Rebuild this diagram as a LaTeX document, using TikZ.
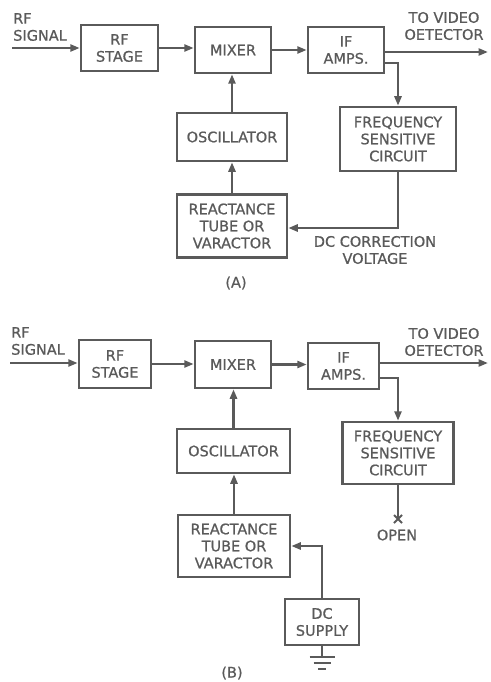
\documentclass[tikz,border=0pt]{standalone}
\usepackage{fontspec}
\setmainfont{DejaVu Sans}[FakeBold=0.8]
\usetikzlibrary{arrows.meta}
\definecolor{ink}{HTML}{5A5A5A}

\begin{document}
\begin{tikzpicture}[x=1pt, y=-1pt, line width=2.5pt, color=ink,
  block/.style={draw, align=center, inner sep=0pt, font=\fontsize{14.5}{17}\selectfont},
  lbl/.style={align=center, inner sep=0pt, font=\fontsize{14.5}{17}\selectfont},
  feed/.style={-{Triangle[length=9.5pt,width=7pt]}}]
\useasboundingbox (0,0) rectangle (490,682);

% (A) drift correction loop closed
\node[block, minimum width=77, minimum height=46] (rfA) at (119.5,48) {RF\\STAGE};
\node[block, minimum width=76, minimum height=46] (mixA) at (233,50) {MIXER};
\node[block, minimum width=76, minimum height=46] (ifA) at (346,50) {IF\\AMPS.};
\node[block, minimum width=116, minimum height=64] (fscA) at (398,139) {FREQUENCY\\SENSITIVE\\CIRCUIT};
\node[block, minimum width=110, minimum height=48] (oscA) at (232,137) {OSCILLATOR};
\node[block, minimum width=110, minimum height=63] (reaA) at (232,226) {REACTANCE\\TUBE OR\\VARACTOR};

\node[lbl, anchor=west, align=left] (sigA) at (12,27) {RF\\SIGNAL};
\node[lbl] (vidA) at (444,26) {TO VIDEO\\OETECTOR};
\node[lbl] (corrA) at (375,250) {DC CORRECTION\\VOLTAGE};
\node[lbl] (capA) at (236,283) {(A)};

\coordinate (inA) at (12,48);
\coordinate (outA) at (488,52);
\draw[feed] (inA) -- (rfA.west);
\draw[feed] (rfA.east) -- (rfA.east -| mixA.west);
\draw[feed] (mixA.east) -- (mixA.east -| ifA.west);
\draw[feed] (ifA.east |- outA) -- (outA);
\draw[feed] ([yshift=-13pt]ifA.east) -| (fscA.north);
\draw[feed] (fscA.south) |- ([yshift=-2pt]reaA.east);
\draw[feed] (reaA.north) -- (oscA.south);
\draw[feed] (oscA.north) -- (oscA.north |- mixA.south);

% (B) loop opened, fixed dc supply
\node[block, minimum width=72, minimum height=48] (rfB) at (115,364) {RF\\STAGE};
\node[block, minimum width=76, minimum height=47] (mixB) at (233,364.5) {MIXER};
\node[block, minimum width=71, minimum height=46] (ifB) at (343.5,366) {IF\\AMPS.};
\node[block, minimum width=111, minimum height=62] (fscB) at (398,453) {FREQUENCY\\SENSITIVE\\CIRCUIT};
\node[block, minimum width=113, minimum height=44] (oscB) at (233.5,451) {OSCILLATOR};
\node[block, minimum width=112, minimum height=62] (reaB) at (234,546) {REACTANCE\\TUBE OR\\VARACTOR};
\node[block, minimum width=74, minimum height=46] (dcB) at (322,622) {DC\\SUPPLY};

\node[lbl, anchor=west, align=left] (sigB) at (10,341) {RF\\SIGNAL};
\node[lbl] (vidB) at (444,342) {TO VIDEO\\OETECTOR};
\node[lbl] (openT) at (397,535) {OPEN};
\node[lbl] (capB) at (232,673) {(B)};

\coordinate (inB) at (10,363);
\coordinate (outB) at (488,363);
\coordinate (openB) at (398,519);
\coordinate (gnd) at (322,657);
\draw[feed] (inB) -- (inB -| rfB.west);
\draw[feed] (rfB.east) -- (rfB.east -| mixB.west);
\draw[feed] (mixB.east) -- (mixB.east -| ifB.west);
\draw[feed] (ifB.east |- outB) -- (outB);
\draw[feed] ([yshift=-12pt]ifB.east) -| (fscB.north);
\draw (fscB.south) -- (openB);
\draw[line width=2pt] ([shift={(-4pt,-4pt)}]openB) -- ([shift={(4pt,4pt)}]openB)
  ([shift={(-4pt,4pt)}]openB) -- ([shift={(4pt,-4pt)}]openB);
\draw[feed] (reaB.north) -- (reaB.north |- oscB.south);
\draw[feed] (oscB.north) -- (oscB.north |- mixB.south);
\draw[feed] (dcB.north) |- (reaB.east);
\draw (dcB.south) -- (gnd);
\draw ([xshift=-12.5pt]gnd) -- ++(25,0);
\draw ([xshift=-8.5pt]gnd) ++(0,6) -- ++(17,0);
\draw ([xshift=-4pt]gnd) ++(0,12) -- ++(8,0);
\end{tikzpicture}
\end{document}
